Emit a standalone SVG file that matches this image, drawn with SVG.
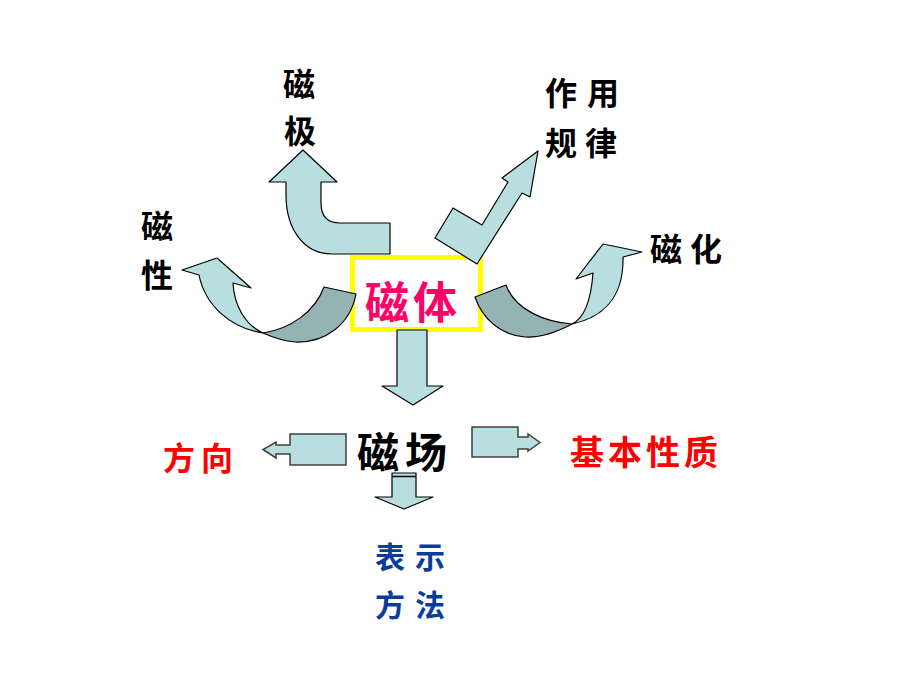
<svg xmlns="http://www.w3.org/2000/svg" width="900" height="675" viewBox="0 0 900 675">
<style>
.lt{fill:#B8DEE0;stroke:#000;stroke-width:1.2;stroke-linejoin:round}
.dk{fill:#95B3B4;stroke:#000;stroke-width:1.2;stroke-linejoin:round}
.co{fill:#B8DEE0;stroke:#404040;stroke-width:1.5}
.t{font-family:"Noto Sans CJK SC","Noto Sans CJK JP",sans-serif;font-weight:bold}
.k{fill:#000;font-size:32px}
.r{fill:#FF0000}
.b{fill:#0A3C9B;font-size:30px}
</style>
<rect width="900" height="675" fill="#fff"/>
<g id="node-citi-box">
  <rect x="352.5" y="257.5" width="128" height="72" fill="#fff" stroke="#FFFF00" stroke-width="5"/>
</g>
<g id="connectors">
  <path id="arrow-ciji" class="lt" d="M303,150 L337,182 L321,182 L321,203 Q321,223 340,223 L390,223 L390,254 L332,254 C303,254 286,228 286,195 L286,182 L269,182 Z"/>
  <polygon id="arrow-guilv" class="lt" points="538,151 530,197 522,193 477,264 435,238 453,208 482,225 508,182 502,178"/>
  <path id="arrow-cixing-back" class="dk" d="M324,287 L356,294 C350,325 325,343 295,342 C283,341 272,337 263,333 C290,329 315,312 324,287 Z"/>
  <path id="arrow-cixing" class="lt" d="M182,270 L217,258 L251,288 L233,283 C234,305 245,325 263,333 C230,328 205,305 199,275 Z"/>
  <path id="arrow-cihua-back" class="dk" d="M475,297 L506,285 C515,310 545,322 572,324 C555,333 540,338 525,337 C500,335 482,318 475,297 Z"/>
  <path id="arrow-cihua" class="lt" d="M642,252 L603,244 L576,279 L593,273 C591,300 585,318 572,324 C600,318 624,300 623,257 Z"/>
  <polygon id="arrow-down1" class="lt" points="397,330 427,330 427,386 443,386 413,405 382,386 397,386"/>
  <polygon id="arrow-down2" class="lt" points="392,473 416,473 416,497 433,497 404,509 375,497 392,497"/>
  <line x1="392" y1="476.5" x2="416" y2="476.5" stroke="#000" stroke-width="1.5"/>
  <polygon id="callout-left" class="co" points="346,434 290,434 290,445 276,445 276,442 263,449.5 276,458 276,454 290,454 290,465 346,465"/>
  <polygon id="callout-right" class="co" points="472,427 518,427 518,437 528,437 528,434 540,442.5 528,451 528,449 518,449 518,457 472,457"/>
</g>
<g id="node-citi">
  <text class="t" x="413" y="319" font-size="44" fill="#FF0066" text-anchor="middle" letter-spacing="4">磁体</text>
</g>
<g id="node-ciji">
  <text class="t k" x="299" y="96" text-anchor="middle">磁</text>
  <text class="t k" x="300" y="143" text-anchor="middle">极</text>
</g>
<g id="node-cixing">
  <text class="t k" x="157" y="238" text-anchor="middle">磁</text>
  <text class="t k" x="157" y="287" text-anchor="middle">性</text>
</g>
<g id="node-zuoyong">
  <text class="t k" x="545" y="105" letter-spacing="10">作用</text>
  <text class="t k" x="545" y="155" letter-spacing="8">规律</text>
</g>
<g id="node-cihua">
  <text class="t k" x="650" y="261" letter-spacing="8">磁化</text>
</g>
<g id="node-cichang">
  <text class="t" x="357" y="468" font-size="42" fill="#000" letter-spacing="6">磁场</text>
</g>
<g id="node-fangxiang">
  <text class="t r" x="163" y="470" font-size="32" letter-spacing="6">方向</text>
</g>
<g id="node-jibenxingzhi">
  <text class="t r" x="570" y="465" font-size="34" letter-spacing="4">基本性质</text>
</g>
<g id="node-biaoshi">
  <text class="t b" x="375" y="568" letter-spacing="10">表示</text>
  <text class="t b" x="375" y="616" letter-spacing="10">方法</text>
</g>
</svg>
